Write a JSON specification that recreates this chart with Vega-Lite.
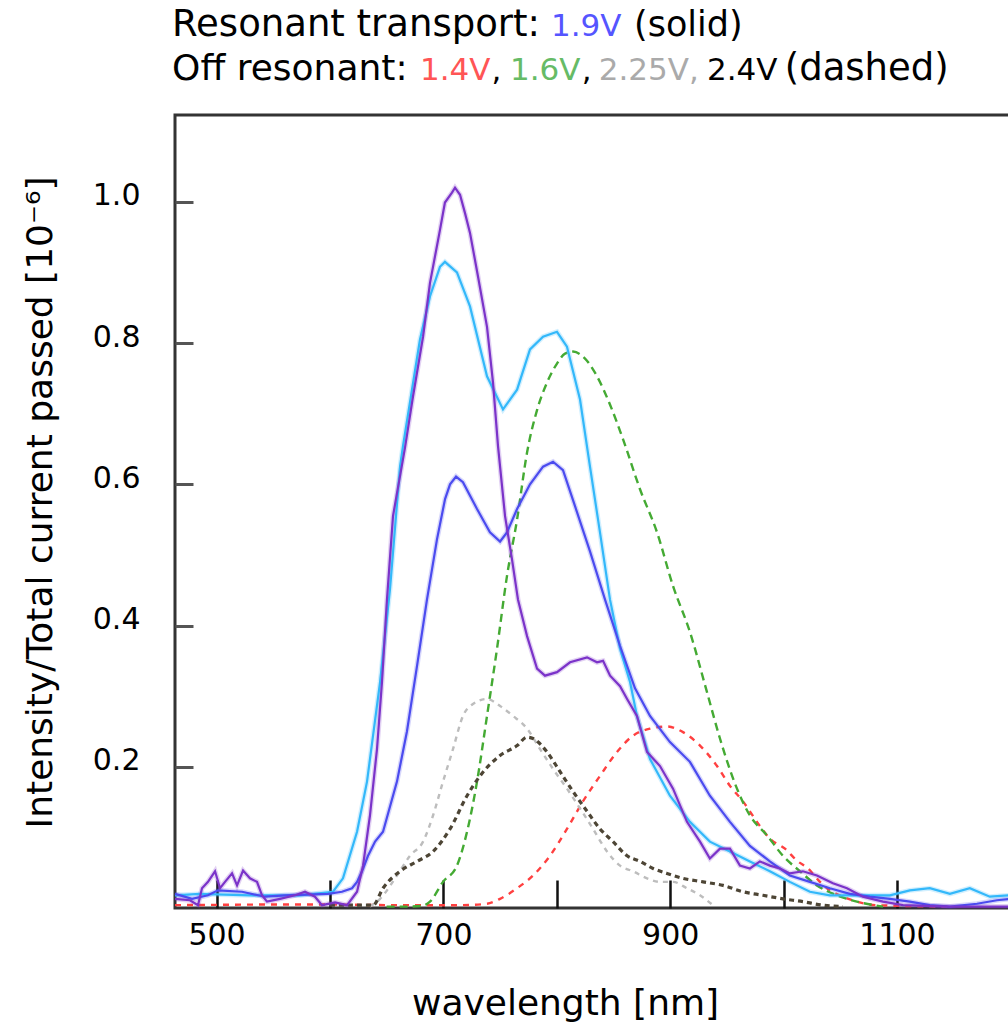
{
  "$schema": "https://vega.github.io/schema/vega-lite/v6.json",
  "width": 836,
  "height": 793,
  "autosize": "none",
  "padding": {"left": 175, "top": 115, "right": 0, "bottom": 116},
  "background": "white",
  "config": {
    "view": {"stroke": "#333333", "strokeWidth": 3},
    "font": "DejaVu Sans",
    "axis": {"labelFont": "DejaVu Sans", "titleFont": "DejaVu Sans", "labelColor": "#000", "titleColor": "#000", "titleFontWeight": "normal", "grid": false, "domain": false}
  },
  "datasets": {
    "spectra": [
      {"series":"1.9V a","wavelength":463.4,"value":0.018},{"series":"1.9V a","wavelength":485,"value":0.02},{"series":"1.9V a","wavelength":529.5,"value":0.018},{"series":"1.9V a","wavelength":573.6,"value":0.018},{"series":"1.9V a","wavelength":602.7,"value":0.023},{"series":"1.9V a","wavelength":611.5,"value":0.042},{"series":"1.9V a","wavelength":623.9,"value":0.108},{"series":"1.9V a","wavelength":632.7,"value":0.179},{"series":"1.9V a","wavelength":644.2,"value":0.32},{"series":"1.9V a","wavelength":653,"value":0.452},{"series":"1.9V a","wavelength":661.8,"value":0.625},{"series":"1.9V a","wavelength":664.4,"value":0.654},{"series":"1.9V a","wavelength":679.4,"value":0.805},{"series":"1.9V a","wavelength":688.2,"value":0.866},{"series":"1.9V a","wavelength":697,"value":0.908},{"series":"1.9V a","wavelength":701.4,"value":0.915},{"series":"1.9V a","wavelength":712,"value":0.9},{"series":"1.9V a","wavelength":723.5,"value":0.852},{"series":"1.9V a","wavelength":738.5,"value":0.753},{"series":"1.9V a","wavelength":752.6,"value":0.706},{"series":"1.9V a","wavelength":765,"value":0.734},{"series":"1.9V a","wavelength":776.4,"value":0.791},{"series":"1.9V a","wavelength":787.9,"value":0.809},{"series":"1.9V a","wavelength":800.2,"value":0.816},{"series":"1.9V a","wavelength":809,"value":0.795},{"series":"1.9V a","wavelength":820.5,"value":0.72},{"series":"1.9V a","wavelength":829.3,"value":0.625},{"series":"1.9V a","wavelength":838.1,"value":0.532},{"series":"1.9V a","wavelength":846.9,"value":0.437},{"series":"1.9V a","wavelength":855.8,"value":0.367},{"series":"1.9V a","wavelength":864.6,"value":0.32},{"series":"1.9V a","wavelength":870.7,"value":0.272},{"series":"1.9V a","wavelength":882.2,"value":0.211},{"series":"1.9V a","wavelength":899.8,"value":0.159},{"series":"1.9V a","wavelength":917.4,"value":0.122},{"series":"1.9V a","wavelength":935,"value":0.094},{"series":"1.9V a","wavelength":952.7,"value":0.08},{"series":"1.9V a","wavelength":970.3,"value":0.066},{"series":"1.9V a","wavelength":987.9,"value":0.052},{"series":"1.9V a","wavelength":1005.5,"value":0.037},{"series":"1.9V a","wavelength":1023.2,"value":0.023},{"series":"1.9V a","wavelength":1040.8,"value":0.018},{"series":"1.9V a","wavelength":1058.4,"value":0.018},{"series":"1.9V a","wavelength":1076,"value":0.018},{"series":"1.9V a","wavelength":1093.7,"value":0.018},{"series":"1.9V a","wavelength":1111.3,"value":0.025},{"series":"1.9V a","wavelength":1128.9,"value":0.028},{"series":"1.9V a","wavelength":1146.6,"value":0.02},{"series":"1.9V a","wavelength":1164.2,"value":0.028},{"series":"1.9V a","wavelength":1181.8,"value":0.016},{"series":"1.9V a","wavelength":1200,"value":0.018},
      {"series":"1.9V b","wavelength":463.4,"value":0.02},{"series":"1.9V b","wavelength":478.4,"value":0.013},{"series":"1.9V b","wavelength":492.5,"value":0.018},{"series":"1.9V b","wavelength":501.3,"value":0.025},{"series":"1.9V b","wavelength":522.5,"value":0.023},{"series":"1.9V b","wavelength":542.8,"value":0.016},{"series":"1.9V b","wavelength":560.4,"value":0.018},{"series":"1.9V b","wavelength":598.3,"value":0.02},{"series":"1.9V b","wavelength":610.6,"value":0.023},{"series":"1.9V b","wavelength":619.5,"value":0.028},{"series":"1.9V b","wavelength":623.9,"value":0.037},{"series":"1.9V b","wavelength":628.3,"value":0.052},{"series":"1.9V b","wavelength":633.6,"value":0.074},{"series":"1.9V b","wavelength":639.8,"value":0.094},{"series":"1.9V b","wavelength":646.8,"value":0.108},{"series":"1.9V b","wavelength":659.1,"value":0.179},{"series":"1.9V b","wavelength":667.9,"value":0.25},{"series":"1.9V b","wavelength":676.8,"value":0.343},{"series":"1.9V b","wavelength":685.6,"value":0.437},{"series":"1.9V b","wavelength":694.4,"value":0.522},{"series":"1.9V b","wavelength":701.5,"value":0.579},{"series":"1.9V b","wavelength":705.9,"value":0.6},{"series":"1.9V b","wavelength":711.2,"value":0.611},{"series":"1.9V b","wavelength":717.3,"value":0.603},{"series":"1.9V b","wavelength":729.7,"value":0.565},{"series":"1.9V b","wavelength":741.1,"value":0.532},{"series":"1.9V b","wavelength":750,"value":0.519},{"series":"1.9V b","wavelength":756.1,"value":0.532},{"series":"1.9V b","wavelength":765,"value":0.565},{"series":"1.9V b","wavelength":776.4,"value":0.6},{"series":"1.9V b","wavelength":787.9,"value":0.625},{"series":"1.9V b","wavelength":796.7,"value":0.632},{"series":"1.9V b","wavelength":805.5,"value":0.62},{"series":"1.9V b","wavelength":816.1,"value":0.569},{"series":"1.9V b","wavelength":829.3,"value":0.505},{"series":"1.9V b","wavelength":842.5,"value":0.437},{"series":"1.9V b","wavelength":855.8,"value":0.371},{"series":"1.9V b","wavelength":869,"value":0.311},{"series":"1.9V b","wavelength":882.2,"value":0.272},{"series":"1.9V b","wavelength":899.8,"value":0.235},{"series":"1.9V b","wavelength":917.4,"value":0.207},{"series":"1.9V b","wavelength":935,"value":0.159},{"series":"1.9V b","wavelength":952.7,"value":0.122},{"series":"1.9V b","wavelength":970.3,"value":0.088},{"series":"1.9V b","wavelength":987.9,"value":0.066},{"series":"1.9V b","wavelength":1005.5,"value":0.046},{"series":"1.9V b","wavelength":1023.2,"value":0.037},{"series":"1.9V b","wavelength":1040.8,"value":0.028},{"series":"1.9V b","wavelength":1058.4,"value":0.02},{"series":"1.9V b","wavelength":1076,"value":0.016},{"series":"1.9V b","wavelength":1093.7,"value":0.013},{"series":"1.9V b","wavelength":1111.3,"value":0.009},{"series":"1.9V b","wavelength":1128.9,"value":0.004},{"series":"1.9V b","wavelength":1146.6,"value":0.002},{"series":"1.9V b","wavelength":1170.5,"value":0.006},{"series":"1.9V b","wavelength":1188.1,"value":0.011},{"series":"1.9V b","wavelength":1200,"value":0.013},
      {"series":"1.9V c","wavelength":463.4,"value":0.013},{"series":"1.9V c","wavelength":476.6,"value":0.011},{"series":"1.9V c","wavelength":483.7,"value":0.004},{"series":"1.9V c","wavelength":487.2,"value":0.028},{"series":"1.9V c","wavelength":492.5,"value":0.037},{"series":"1.9V c","wavelength":498.7,"value":0.052},{"series":"1.9V c","wavelength":503.1,"value":0.028},{"series":"1.9V c","wavelength":507.5,"value":0.037},{"series":"1.9V c","wavelength":513.7,"value":0.049},{"series":"1.9V c","wavelength":518.1,"value":0.032},{"series":"1.9V c","wavelength":523.4,"value":0.053},{"series":"1.9V c","wavelength":529.5,"value":0.042},{"series":"1.9V c","wavelength":535.7,"value":0.037},{"series":"1.9V c","wavelength":540.1,"value":0.018},{"series":"1.9V c","wavelength":544.5,"value":0.009},{"series":"1.9V c","wavelength":556,"value":0.013},{"series":"1.9V c","wavelength":569.2,"value":0.018},{"series":"1.9V c","wavelength":578,"value":0.023},{"series":"1.9V c","wavelength":586.8,"value":0.016},{"series":"1.9V c","wavelength":593,"value":0.004},{"series":"1.9V c","wavelength":604.5,"value":0.008},{"series":"1.9V c","wavelength":615.1,"value":0.004},{"series":"1.9V c","wavelength":623.9,"value":0.023},{"series":"1.9V c","wavelength":629.2,"value":0.06},{"series":"1.9V c","wavelength":635.3,"value":0.131},{"series":"1.9V c","wavelength":641.5,"value":0.225},{"series":"1.9V c","wavelength":645.9,"value":0.32},{"series":"1.9V c","wavelength":650.3,"value":0.437},{"series":"1.9V c","wavelength":655.6,"value":0.555},{"series":"1.9V c","wavelength":666.2,"value":0.652},{"series":"1.9V c","wavelength":673.2,"value":0.724},{"series":"1.9V c","wavelength":682.1,"value":0.809},{"series":"1.9V c","wavelength":688.2,"value":0.885},{"series":"1.9V c","wavelength":697,"value":0.96},{"series":"1.9V c","wavelength":701.4,"value":0.999},{"series":"1.9V c","wavelength":707.6,"value":1.013},{"series":"1.9V c","wavelength":710.3,"value":1.02},{"series":"1.9V c","wavelength":714.7,"value":1.01},{"series":"1.9V c","wavelength":719.1,"value":0.984},{"series":"1.9V c","wavelength":723.5,"value":0.956},{"series":"1.9V c","wavelength":730.6,"value":0.894},{"series":"1.9V c","wavelength":738.5,"value":0.823},{"series":"1.9V c","wavelength":743.8,"value":0.744},{"series":"1.9V c","wavelength":748.2,"value":0.654},{"series":"1.9V c","wavelength":754.4,"value":0.555},{"series":"1.9V c","wavelength":760.5,"value":0.494},{"series":"1.9V c","wavelength":765.8,"value":0.437},{"series":"1.9V c","wavelength":773.8,"value":0.385},{"series":"1.9V c","wavelength":782.6,"value":0.339},{"series":"1.9V c","wavelength":789.6,"value":0.329},{"series":"1.9V c","wavelength":800.2,"value":0.334},{"series":"1.9V c","wavelength":811.7,"value":0.348},{"series":"1.9V c","wavelength":826.7,"value":0.355},{"series":"1.9V c","wavelength":835.5,"value":0.348},{"series":"1.9V c","wavelength":840.8,"value":0.35},{"series":"1.9V c","wavelength":847,"value":0.329},{"series":"1.9V c","wavelength":855.8,"value":0.314},{"series":"1.9V c","wavelength":862,"value":0.296},{"series":"1.9V c","wavelength":870.7,"value":0.272},{"series":"1.9V c","wavelength":879.6,"value":0.221},{"series":"1.9V c","wavelength":891,"value":0.201},{"series":"1.9V c","wavelength":902.5,"value":0.169},{"series":"1.9V c","wavelength":914.8,"value":0.122},{"series":"1.9V c","wavelength":926.3,"value":0.094},{"series":"1.9V c","wavelength":935,"value":0.07},{"series":"1.9V c","wavelength":943.9,"value":0.084},{"series":"1.9V c","wavelength":952.7,"value":0.084},{"series":"1.9V c","wavelength":961.5,"value":0.06},{"series":"1.9V c","wavelength":970.3,"value":0.056},{"series":"1.9V c","wavelength":979.1,"value":0.066},{"series":"1.9V c","wavelength":987.9,"value":0.06},{"series":"1.9V c","wavelength":996.7,"value":0.056},{"series":"1.9V c","wavelength":1005.5,"value":0.049},{"series":"1.9V c","wavelength":1017,"value":0.052},{"series":"1.9V c","wavelength":1029.4,"value":0.046},{"series":"1.9V c","wavelength":1043.5,"value":0.035},{"series":"1.9V c","wavelength":1055.9,"value":0.028},{"series":"1.9V c","wavelength":1070,"value":0.016},{"series":"1.9V c","wavelength":1087.6,"value":0.009},{"series":"1.9V c","wavelength":1105.3,"value":0.004},{"series":"1.9V c","wavelength":1146.6,"value":0.002},{"series":"1.9V c","wavelength":1200,"value":0.002},
      {"series":"1.4V","wavelength":463.4,"value":0.004},{"series":"1.4V","wavelength":573.6,"value":0.005},{"series":"1.4V","wavelength":670.6,"value":0.004},{"series":"1.4V","wavelength":714.7,"value":0.004},{"series":"1.4V","wavelength":738.5,"value":0.006},{"series":"1.4V","wavelength":750,"value":0.013},{"series":"1.4V","wavelength":765,"value":0.028},{"series":"1.4V","wavelength":779.1,"value":0.046},{"series":"1.4V","wavelength":794,"value":0.074},{"series":"1.4V","wavelength":809,"value":0.112},{"series":"1.4V","wavelength":823.1,"value":0.151},{"series":"1.4V","wavelength":838.1,"value":0.187},{"series":"1.4V","wavelength":853.1,"value":0.221},{"series":"1.4V","wavelength":867.2,"value":0.244},{"series":"1.4V","wavelength":882.2,"value":0.254},{"series":"1.4V","wavelength":897.2,"value":0.257},{"series":"1.4V","wavelength":911.3,"value":0.249},{"series":"1.4V","wavelength":926.3,"value":0.23},{"series":"1.4V","wavelength":941.3,"value":0.201},{"series":"1.4V","wavelength":952.7,"value":0.173},{"series":"1.4V","wavelength":964.2,"value":0.151},{"series":"1.4V","wavelength":976.5,"value":0.122},{"series":"1.4V","wavelength":988,"value":0.098},{"series":"1.4V","wavelength":1001.2,"value":0.084},{"series":"1.4V","wavelength":1011.8,"value":0.067},{"series":"1.4V","wavelength":1021.5,"value":0.056},{"series":"1.4V","wavelength":1032.1,"value":0.037},{"series":"1.4V","wavelength":1040.8,"value":0.025},{"series":"1.4V","wavelength":1052.3,"value":0.016},{"series":"1.4V","wavelength":1064.6,"value":0.009},{"series":"1.4V","wavelength":1082.3,"value":0.004},{"series":"1.4V","wavelength":1146.6,"value":0.002},
      {"series":"1.6V","wavelength":650,"value":0.002},{"series":"1.6V","wavelength":670.6,"value":0.002},{"series":"1.6V","wavelength":681.2,"value":0.003},{"series":"1.6V","wavelength":688.2,"value":0.009},{"series":"1.6V","wavelength":699.7,"value":0.037},{"series":"1.6V","wavelength":712,"value":0.06},{"series":"1.6V","wavelength":720.9,"value":0.108},{"series":"1.6V","wavelength":729.7,"value":0.179},{"series":"1.6V","wavelength":738.5,"value":0.272},{"series":"1.6V","wavelength":747.3,"value":0.367},{"series":"1.6V","wavelength":756.1,"value":0.47},{"series":"1.6V","wavelength":765,"value":0.55},{"series":"1.6V","wavelength":773.8,"value":0.645},{"series":"1.6V","wavelength":782.6,"value":0.705},{"series":"1.6V","wavelength":791.4,"value":0.744},{"series":"1.6V","wavelength":800.2,"value":0.771},{"series":"1.6V","wavelength":807.3,"value":0.785},{"series":"1.6V","wavelength":814.3,"value":0.788},{"series":"1.6V","wavelength":823.1,"value":0.781},{"series":"1.6V","wavelength":835.5,"value":0.753},{"series":"1.6V","wavelength":846.9,"value":0.713},{"series":"1.6V","wavelength":858.4,"value":0.664},{"series":"1.6V","wavelength":873.4,"value":0.593},{"series":"1.6V","wavelength":888.4,"value":0.532},{"series":"1.6V","wavelength":902.5,"value":0.456},{"series":"1.6V","wavelength":917.4,"value":0.391},{"series":"1.6V","wavelength":932.4,"value":0.306},{"series":"1.6V","wavelength":943.9,"value":0.24},{"series":"1.6V","wavelength":958.9,"value":0.169},{"series":"1.6V","wavelength":970.3,"value":0.131},{"series":"1.6V","wavelength":985.3,"value":0.103},{"series":"1.6V","wavelength":999.4,"value":0.074},{"series":"1.6V","wavelength":1014.4,"value":0.052},{"series":"1.6V","wavelength":1029.4,"value":0.032},{"series":"1.6V","wavelength":1047,"value":0.018},{"series":"1.6V","wavelength":1064.6,"value":0.009},{"series":"1.6V","wavelength":1087.6,"value":0.002},
      {"series":"2.25V","wavelength":635.3,"value":0.002},{"series":"2.25V","wavelength":644.2,"value":0.013},{"series":"2.25V","wavelength":659.1,"value":0.046},{"series":"2.25V","wavelength":670.6,"value":0.074},{"series":"2.25V","wavelength":682.1,"value":0.094},{"series":"2.25V","wavelength":690.9,"value":0.131},{"series":"2.25V","wavelength":699.7,"value":0.179},{"series":"2.25V","wavelength":708.5,"value":0.225},{"series":"2.25V","wavelength":717.3,"value":0.272},{"series":"2.25V","wavelength":726.1,"value":0.289},{"series":"2.25V","wavelength":738.5,"value":0.296},{"series":"2.25V","wavelength":750,"value":0.286},{"series":"2.25V","wavelength":761.4,"value":0.272},{"series":"2.25V","wavelength":773.8,"value":0.254},{"series":"2.25V","wavelength":785.3,"value":0.225},{"series":"2.25V","wavelength":796.7,"value":0.197},{"series":"2.25V","wavelength":809,"value":0.169},{"series":"2.25V","wavelength":820.5,"value":0.141},{"series":"2.25V","wavelength":832,"value":0.112},{"series":"2.25V","wavelength":844.3,"value":0.08},{"series":"2.25V","wavelength":855.8,"value":0.06},{"series":"2.25V","wavelength":867.2,"value":0.052},{"series":"2.25V","wavelength":879.6,"value":0.042},{"series":"2.25V","wavelength":891,"value":0.037},{"series":"2.25V","wavelength":902.5,"value":0.037},{"series":"2.25V","wavelength":914.8,"value":0.028},{"series":"2.25V","wavelength":926.3,"value":0.018},{"series":"2.25V","wavelength":937.7,"value":0.004},
      {"series":"2.4V","wavelength":600,"value":0.004},{"series":"2.4V","wavelength":615,"value":0.004},{"series":"2.4V","wavelength":638,"value":0.004},{"series":"2.4V","wavelength":646.8,"value":0.028},{"series":"2.4V","wavelength":661.8,"value":0.052},{"series":"2.4V","wavelength":676.8,"value":0.066},{"series":"2.4V","wavelength":690.9,"value":0.08},{"series":"2.4V","wavelength":705.9,"value":0.112},{"series":"2.4V","wavelength":720.9,"value":0.159},{"series":"2.4V","wavelength":732.3,"value":0.187},{"series":"2.4V","wavelength":750,"value":0.216},{"series":"2.4V","wavelength":765,"value":0.23},{"series":"2.4V","wavelength":773.8,"value":0.242},{"series":"2.4V","wavelength":779.1,"value":0.24},{"series":"2.4V","wavelength":791.4,"value":0.221},{"series":"2.4V","wavelength":802.9,"value":0.193},{"series":"2.4V","wavelength":814.3,"value":0.165},{"series":"2.4V","wavelength":826.7,"value":0.137},{"series":"2.4V","wavelength":838.1,"value":0.112},{"series":"2.4V","wavelength":849.6,"value":0.094},{"series":"2.4V","wavelength":862,"value":0.074},{"series":"2.4V","wavelength":873.4,"value":0.066},{"series":"2.4V","wavelength":884.9,"value":0.056},{"series":"2.4V","wavelength":897.2,"value":0.049},{"series":"2.4V","wavelength":911.3,"value":0.042},{"series":"2.4V","wavelength":929,"value":0.037},{"series":"2.4V","wavelength":946.6,"value":0.032},{"series":"2.4V","wavelength":964.2,"value":0.023},{"series":"2.4V","wavelength":981.8,"value":0.018},{"series":"2.4V","wavelength":999.4,"value":0.013},{"series":"2.4V","wavelength":1017,"value":0.009},{"series":"2.4V","wavelength":1034.6,"value":0.004},{"series":"2.4V","wavelength":1052.3,"value":0.002}
    ]
  },
  "layer": [
    {
      "data": {"name": "spectra"},
      "transform": [{"filter": {"field": "series", "oneOf": ["2.25V", "1.4V", "1.6V"]}}],
      "mark": {"type": "line", "strokeWidth": 2.4, "strokeCap": "butt", "interpolate": "monotone"},
      "encoding": {
        "x": {"field": "wavelength", "type": "quantitative", "scale": {"domain": [463.4, 1200.5], "nice": false, "zero": false},
          "axis": {"title": "wavelength [nm]", "values": [500, 600, 700, 800, 900, 1000, 1100], "format": "d",
            "labelExpr": "datum.value % 200 == 100 ? datum.label : ''",
            "tickSize": -28, "tickWidth": 2.5, "tickColor": "#111111", "labelFontSize": 30, "labelPadding": 40,
            "titleFontSize": 36, "titleX": 390, "titleY": 106, "titleAlign": "center", "titleBaseline": "alphabetic"}},
        "y": {"field": "value", "type": "quantitative", "scale": {"domain": [0, 1.123], "nice": false, "zero": false},
          "axis": {"title": "Intensity/Total current passed [10⁻⁶]", "values": [0.2, 0.4, 0.6, 0.8, 1.0], "format": ".1f",
            "tickSize": -18, "tickWidth": 3, "tickColor": "#555555", "labelFontSize": 30, "labelPadding": 53, "labelOffset": -6,
            "titleFontSize": 36, "titleX": -124, "titleY": 387, "titleAlign": "center", "titleBaseline": "alphabetic", "titleAngle": -90}},
        "color": {"field": "series", "type": "nominal", "legend": null,
          "scale": {"domain": ["1.9V a", "1.9V b", "1.9V c", "1.4V", "1.6V", "2.25V", "2.4V"],
            "range": ["#33b8fa", "#4b4bef", "#7b33c9", "#ff4040", "#44aa33", "#bdbdbd", "#4d4535"]}},
        "strokeDash": {"field": "series", "type": "nominal", "legend": null,
          "scale": {"domain": ["2.25V", "1.4V", "1.6V"], "range": [[5, 5], [6, 6], [8, 5]]}}
      }
    },
    {
      "data": {"name": "spectra"},
      "transform": [{"filter": {"field": "series", "equal": "2.4V"}}],
      "mark": {"type": "line", "strokeWidth": 3.2, "strokeDash": [5, 4], "strokeCap": "butt", "interpolate": "monotone"},
      "encoding": {
        "x": {"field": "wavelength", "type": "quantitative"},
        "y": {"field": "value", "type": "quantitative"},
        "color": {"field": "series", "type": "nominal", "legend": null}
      }
    },
    {
      "data": {"name": "spectra"},
      "transform": [{"filter": {"field": "series", "oneOf": ["1.9V a", "1.9V b", "1.9V c"]}}],
      "mark": {"type": "line", "strokeWidth": 5, "opacity": 0.22},
      "encoding": {
        "x": {"field": "wavelength", "type": "quantitative"},
        "y": {"field": "value", "type": "quantitative"},
        "color": {"field": "series", "type": "nominal", "legend": null}
      }
    },
    {
      "data": {"name": "spectra"},
      "transform": [{"filter": {"field": "series", "oneOf": ["1.9V a", "1.9V b", "1.9V c"]}}],
      "mark": {"type": "line", "strokeWidth": 2.2},
      "encoding": {
        "x": {"field": "wavelength", "type": "quantitative"},
        "y": {"field": "value", "type": "quantitative"},
        "color": {"field": "series", "type": "nominal", "legend": null}
      }
    },
    {"data": {"values": [{}]}, "mark": {"type": "text", "text": "Resonant transport:", "align": "left", "baseline": "alphabetic", "fontSize": 37, "color": "#000000"},
      "encoding": {"x": {"datum": 460.8, "type": "quantitative"}, "y": {"datum": 1.2349, "type": "quantitative"}}},
    {"data": {"values": [{}]}, "mark": {"type": "text", "text": "1.9V", "align": "left", "baseline": "alphabetic", "fontSize": 31, "color": "#5555ff"},
      "encoding": {"x": {"datum": 794.9, "type": "quantitative"}, "y": {"datum": 1.2349, "type": "quantitative"}}},
    {"data": {"values": [{}]}, "mark": {"type": "text", "text": "(solid)", "align": "left", "baseline": "alphabetic", "fontSize": 35, "color": "#000000"},
      "encoding": {"x": {"datum": 868.1, "type": "quantitative"}, "y": {"datum": 1.2349, "type": "quantitative"}}},
    {"data": {"values": [{}]}, "mark": {"type": "text", "text": "Off resonant:", "align": "left", "baseline": "alphabetic", "fontSize": 36, "color": "#000000"},
      "encoding": {"x": {"datum": 460.8, "type": "quantitative"}, "y": {"datum": 1.1726, "type": "quantitative"}}},
    {"data": {"values": [{}]}, "mark": {"type": "text", "text": "1.4V", "align": "left", "baseline": "alphabetic", "fontSize": 31, "color": "#ff5555"},
      "encoding": {"x": {"datum": 679.4, "type": "quantitative"}, "y": {"datum": 1.1726, "type": "quantitative"}}},
    {"data": {"values": [{}]}, "mark": {"type": "text", "text": ",", "align": "left", "baseline": "alphabetic", "fontSize": 31, "color": "#000000"},
      "encoding": {"x": {"datum": 742.5, "type": "quantitative"}, "y": {"datum": 1.1726, "type": "quantitative"}}},
    {"data": {"values": [{}]}, "mark": {"type": "text", "text": "1.6V", "align": "left", "baseline": "alphabetic", "fontSize": 31, "color": "#66bb66"},
      "encoding": {"x": {"datum": 758.8, "type": "quantitative"}, "y": {"datum": 1.1726, "type": "quantitative"}}},
    {"data": {"values": [{}]}, "mark": {"type": "text", "text": ",", "align": "left", "baseline": "alphabetic", "fontSize": 31, "color": "#000000"},
      "encoding": {"x": {"datum": 822, "type": "quantitative"}, "y": {"datum": 1.1726, "type": "quantitative"}}},
    {"data": {"values": [{}]}, "mark": {"type": "text", "text": "2.25V,", "align": "left", "baseline": "alphabetic", "fontSize": 31, "color": "#aaaaaa"},
      "encoding": {"x": {"datum": 837, "type": "quantitative"}, "y": {"datum": 1.1726, "type": "quantitative"}}},
    {"data": {"values": [{}]}, "mark": {"type": "text", "text": "2.4V", "align": "left", "baseline": "alphabetic", "fontSize": 31, "color": "#000000"},
      "encoding": {"x": {"datum": 932.5, "type": "quantitative"}, "y": {"datum": 1.1726, "type": "quantitative"}}},
    {"data": {"values": [{}]}, "mark": {"type": "text", "text": "(dashed)", "align": "left", "baseline": "alphabetic", "fontSize": 37, "color": "#000000"},
      "encoding": {"x": {"datum": 1001, "type": "quantitative"}, "y": {"datum": 1.1726, "type": "quantitative"}}}
  ]
}
